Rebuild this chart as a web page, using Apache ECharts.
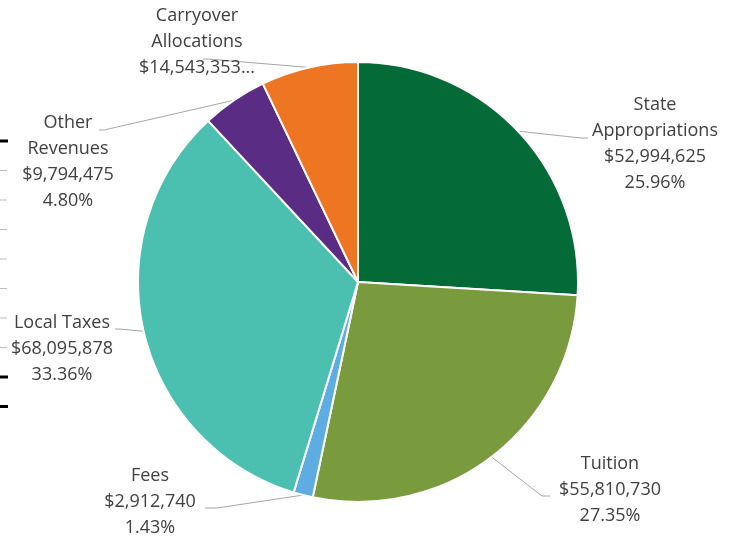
<!DOCTYPE html>
<html>
<head>
<meta charset="utf-8">
<script src="https://cdn.jsdelivr.net/npm/echarts@6/dist/echarts.min.js"></script>
<style>
html,body{margin:0;padding:0;background:#fff;}
#chart{width:739px;height:539px;}
</style>
</head>
<body>
<div id="chart"></div>
<script>
// ---- data ----
const categories = ['State Appropriations', 'Tuition', 'Fees', 'Local Taxes', 'Other Revenues', 'Carryover Allocations'];
const labelNames = ['State\nAppropriations', 'Tuition', 'Fees', 'Local Taxes', 'Other\nRevenues', 'Carryover\nAllocations'];
const values = [52994625, 55810730, 2912740, 68095878, 9794475, 14543353];
const percentLabels = ['25.96%', '27.35%', '1.43%', '33.36%', '4.80%', null];
const colors = ['#046A38', '#7A9A3E', '#5DADE2', '#4BC0B0', '#5B2C83', '#EE7623'];

// ---- layout (label block centres, leader-line bend and end points) ----
const labelPos = [[655, 144], [610, 490], [150, 502], [62, 349], [68, 162], [197, 42]];
const leaderBend = [[581, 138], [542, 496], [217, 508], [119, 329], [104, 130], [208, 59]];
const leaderEnd = [[588, 138], [550, 496], [205, 508], [115, 329], [99, 130], [203, 59]];

function money(v) { return '$' + v.toLocaleString('en-US'); }

const chart = echarts.init(document.getElementById('chart'), null, { renderer: 'canvas' });

const edgeTicks = [
  { y: 141, dark: true }, { y: 170.5 }, { y: 200 }, { y: 229.5 }, { y: 259 },
  { y: 288.5 }, { y: 318 }, { y: 347.5 }, { y: 377, dark: true }, { y: 406.5, dark: true }
];

chart.setOption({
  backgroundColor: '#ffffff',
  animation: false,
  graphic: edgeTicks.map(t => ({
    type: 'rect',
    shape: { x: 0, y: t.y - (t.dark ? 1.5 : 0.5), width: t.dark ? 8 : 7, height: t.dark ? 3 : 1 },
    style: { fill: t.dark ? '#000000' : '#bfbfbf' }
  })),
  series: [{
    type: 'pie',
    center: [358, 282],
    radius: 220,
    startAngle: 90,
    clockwise: true,
    avoidLabelOverlap: false,
    data: categories.map((c, i) => ({ name: c, value: values[i], itemStyle: { color: colors[i] } })),
    itemStyle: { borderColor: '#ffffff', borderWidth: 2 },
    label: {
      show: true,
      position: 'outside',
      color: '#404040',
      fontFamily: 'Open Sans',
      fontSize: 18,
      lineHeight: 25.8,
      align: 'center',
      formatter: function (p) {
        const i = p.dataIndex;
        let s = labelNames[i] + '\n' + money(values[i]);
        if (percentLabels[i]) s += '\n' + percentLabels[i];
        else s += '...';
        return s;
      }
    },
    labelLine: {
      show: true,
      length: 10,
      length2: 10,
      lineStyle: { color: '#a6a6a6', width: 1 }
    },
    labelLayout: function (p) {
      const i = p.dataIndex;
      const pos = labelPos[i];
      const res = { x: pos[0], y: pos[1], align: 'center', verticalAlign: 'middle' };
      if (p.labelLinePoints && p.labelLinePoints[0]) {
        res.labelLinePoints = [p.labelLinePoints[0].slice(), leaderBend[i], leaderEnd[i]];
      }
      return res;
    },
    emphasis: { disabled: true }
  }]
});
</script>
</body>
</html>
